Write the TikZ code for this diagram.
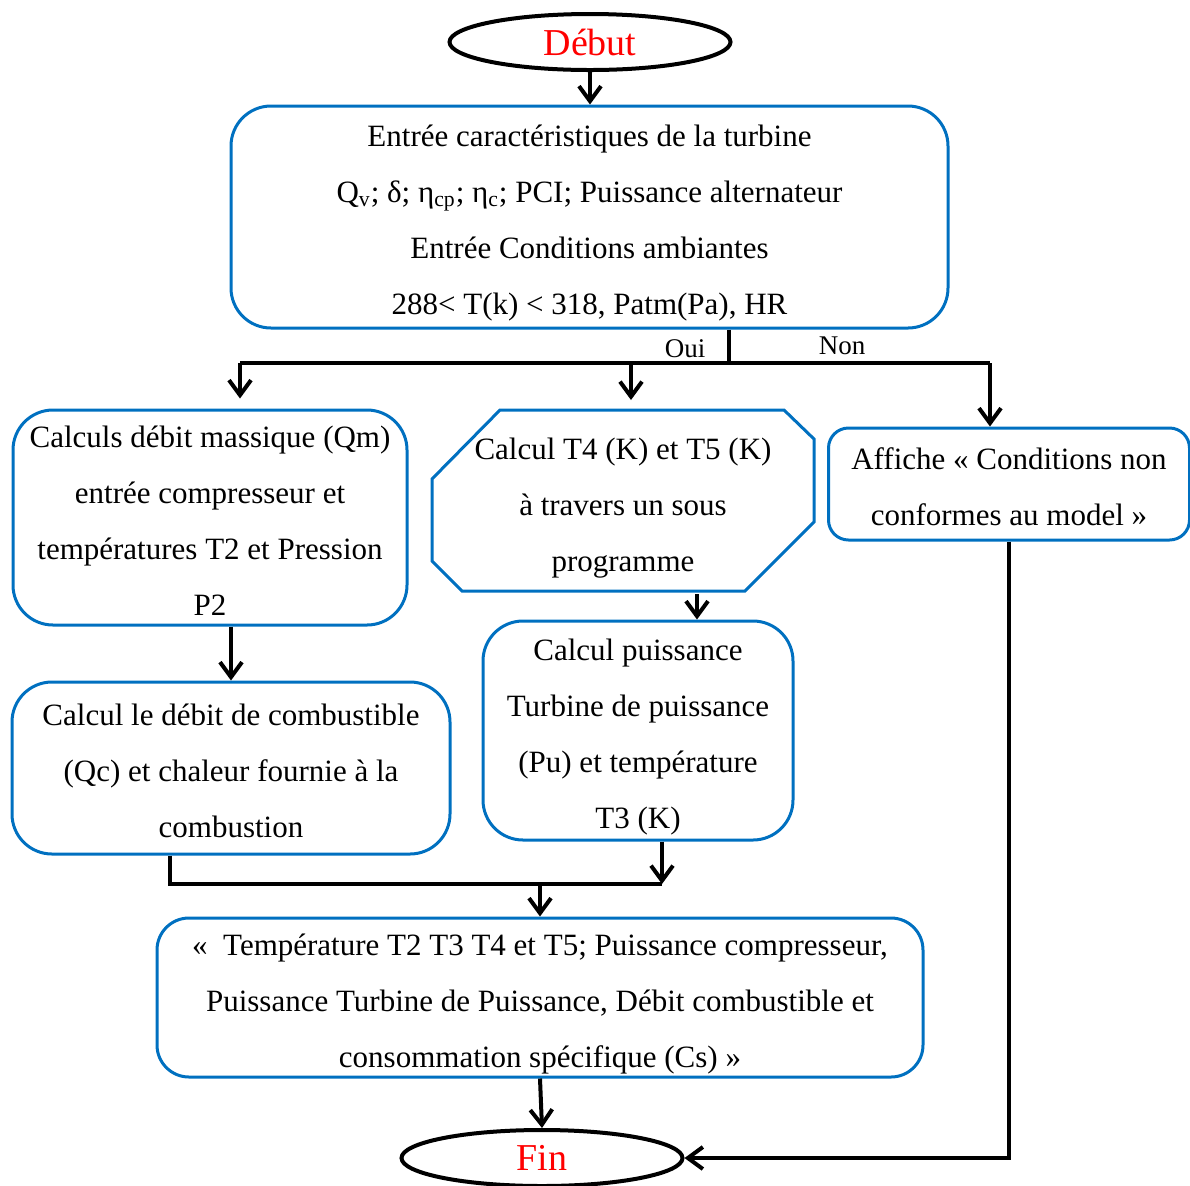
\documentclass[tikz,border=0pt]{standalone}
\usepackage{fontspec}
\setmainfont{Liberation Serif}
\usetikzlibrary{shapes.geometric,arrows.meta}

\definecolor{boxblue}{RGB}{0,112,192}
\newcommand{\hautligne}{\rule{0pt}{18.5pt}}

\begin{document}
\begin{tikzpicture}[x=0.5pt,y=-0.5pt,line width=2pt,
    box/.style={draw=boxblue,line width=1.5pt,rounded corners=20pt,align=center,inner sep=0pt,
        font=\fontsize{15.5}{28}\selectfont,execute at end node={\rule[-5pt]{0pt}{0pt}}},
    terminal/.style={draw,ellipse,line width=2pt,minimum width=140.5pt,
        minimum height=28pt,inner sep=0pt,text=red,font=\fontsize{19}{22}\selectfont},
    label/.style={font=\fontsize{13.5}{15}\selectfont,inner sep=0pt},
    flow/.style={-{Straight Barb[length=7.5pt,width=11pt]}}]
    \useasboundingbox (0,0) rectangle (1190,1185);

    \node[terminal] (debut) at (590,42) {Début};
    \node[box,minimum width=358.5pt,minimum height=111pt] (entree) at (589.5,217)
        {\hautligne Entrée caractéristiques de la turbine\\
         Q\textsubscript{v}; δ; η\textsubscript{cp}; η\textsubscript{c}; PCI; Puissance alternateur\\
         Entrée Conditions ambiantes\\
         288< T(k) < 318, Patm(Pa), HR};
    \node[label] (oui) at (685,349) {Oui};
    \node[label] (non) at (842,346) {Non};

    \node[box,minimum width=197pt,minimum height=107.5pt] (calcQm) at (210,517.5)
        {\hautligne Calculs débit massique (Qm)\\ entrée compresseur et\\
         températures T2 et Pression\\ P2};
    \node[box,draw=none,minimum width=191pt,minimum height=90.5pt] (t45) at (623,502)
        {\hautligne Calcul T4 (K) et T5 (K)\\ à travers un sous\\ programme};
    \draw[boxblue,line width=1.5pt] (500,410) -- (784,410) -- (814,439) -- (814,522) -- (745,591)
        -- (462,591) -- (432,561) -- (432,479) -- cycle;
    \node[box,rounded corners=10pt,minimum width=180.5pt,minimum height=56pt] (affiche) at (1009,484)
        {\hautligne Affiche « Conditions non\\ conformes au model »};

    \node[box,minimum width=219pt,minimum height=86pt] (comb) at (231,768)
        {\hautligne Calcul le débit de combustible\\ (Qc) et chaleur fournie à la\\ combustion};
    \node[box,minimum width=155pt,minimum height=109.5pt] (puiss) at (638,730.5)
        {\hautligne Calcul puissance\\ Turbine de puissance\\ (Pu) et température\\ T3 (K)};

    \node[box,rounded corners=16pt,minimum width=383pt,minimum height=79.5pt] (resultats) at (540,997.5)
        {\hautligne «~~Température T2 T3 T4 et T5; Puissance compresseur,\\
         Puissance Turbine de Puissance, Débit combustible et\\
         consommation spécifique (Cs) »};
    \node[terminal] (fin) at (542,1158) {Fin};

    % branchement Oui / Non
    \coordinate (branch) at (729,363);
    \coordinate (gauche) at (240,363);
    \coordinate (milieu) at (631,363);
    \coordinate (droite) at (990,363);
    \draw[flow] (debut.south) -- (debut.south |- entree.north);
    \draw (entree.south -| branch) -- (branch);
    \draw (gauche) -- (droite);
    \draw[flow,shorten >=5pt] (gauche) -- (gauche |- calcQm.north);
    \draw[flow,shorten >=5pt] (milieu) -- (milieu |- t45.north);
    \draw[flow] (droite) -- (droite |- affiche.north);

    \draw[flow] (comb.north |- calcQm.south) -- (comb.north);
    \draw[flow] ([xshift=37pt]t45.south) -- ([xshift=37pt]t45.south |- puiss.north);

    % jonction vers les resultats
    \coordinate (jl) at (170,884);
    \coordinate (jr) at (662,884);
    \draw (comb.south -| jl) -- (jl) -- (jr);
    \draw[flow] (puiss.south -| jr) -- (jr);
    \draw[flow] (resultats.north |- jr) -- (resultats.north);
    \draw[flow] (resultats.south) -- (fin.north);
    \draw[flow] (affiche.south) |- (fin.east);
\end{tikzpicture}
\end{document}
